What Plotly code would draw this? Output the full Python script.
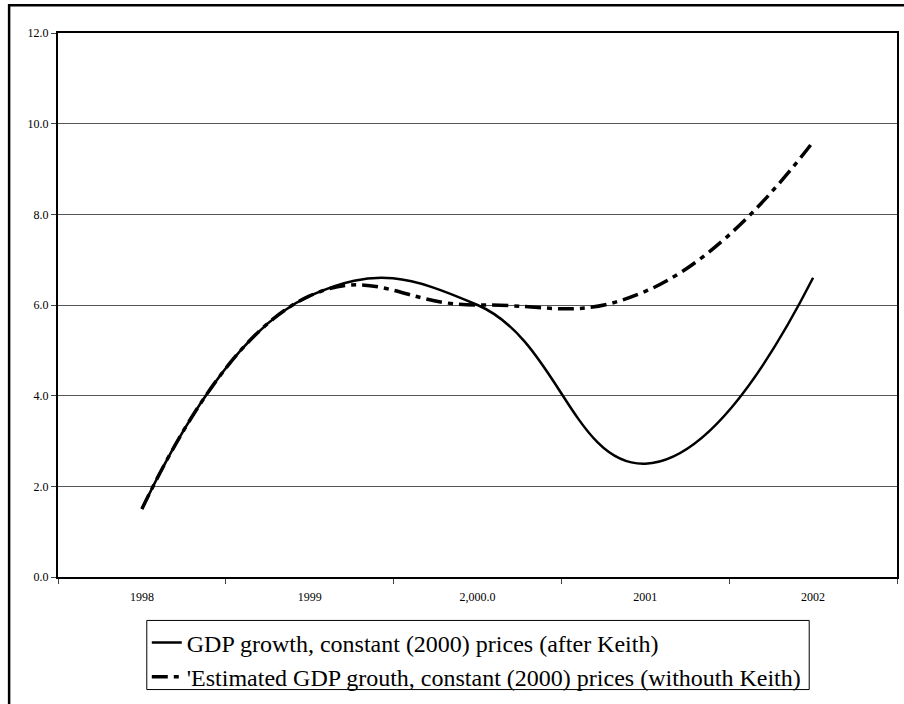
import plotly.graph_objects as go

# ---- data ----
categories = ["1998", "1999", "2,000.0", "2001", "2002"]
gdp_after = [1.5, 6.2, 6.0, 2.5, 6.6]
gdp_without = [1.5, 6.2, 6.0, 6.3, 9.6]
name_after = "GDP growth, constant (2000) prices (after Keith)"
name_without = "'Estimated GDP grouth, constant (2000) prices (withouth Keith)"
y_ticks = [0, 2, 4, 6, 8, 10, 12]

W, H = 904, 704
ML, MR, MT, MB = 58, 5, 33, 120
PW, PH = W - ML - MR, H - MT - MB

def px_x(p):
    return (p - ML) / PW

def px_y(p):
    return (H - MB - p) / PH

SERIF = "Liberation Serif"

fig = go.Figure()
fig.add_trace(go.Scatter(
    x=categories, y=gdp_after, name=name_after, mode="lines",
    line=dict(color="black", width=2.5, shape="spline", smoothing=1.3),
    hoverinfo="skip",
))
fig.add_trace(go.Scatter(
    x=categories, y=gdp_without, name=name_without, mode="lines",
    line=dict(color="black", width=3.5, shape="spline", smoothing=1.3,
              dash="16px,6px,5px,6px"),
    hoverinfo="skip",
))

fig.update_layout(
    width=W, height=H,
    margin=dict(l=ML, r=MR, t=MT, b=MB),
    paper_bgcolor="white", plot_bgcolor="white",
    font=dict(family=SERIF, color="black", size=12),
    showlegend=True,
    legend=dict(
        x=px_x(147), y=px_y(628), xanchor="left", yanchor="top",
        bgcolor="rgba(0,0,0,0)", borderwidth=0,
        font=dict(family=SERIF, size=24, color="black"),
        tracegroupgap=0, itemwidth=30,
    ),
    shapes=[
        dict(
            type="rect", xref="paper", yref="paper",
            x0=px_x(9), x1=px_x(930), y0=px_y(730), y1=px_y(5),
            line=dict(color="black", width=2.5), fillcolor="rgba(0,0,0,0)",
            layer="above",
        ),
        dict(
            type="rect", xref="paper", yref="paper",
            x0=px_x(147), x1=px_x(811), y0=px_y(698), y1=px_y(628),
            line=dict(color="black", width=1), fillcolor="rgba(0,0,0,0)",
            layer="above",
        ),
    ],
)

fig.update_xaxes(
    type="category", categoryorder="array", categoryarray=categories,
    range=[-0.5, len(categories) - 0.5],
    showline=True, linecolor="black", linewidth=2, mirror=True,
    showgrid=False, zeroline=False,
    ticks="outside", tickson="boundaries", ticklen=5, tickcolor="#444",
    tickfont=dict(family=SERIF, size=12, color="black"),
    ticklabelstandoff=8,
)
fig.update_yaxes(
    range=[0, 12], tickvals=y_ticks, tickformat=".1f",
    showline=True, linecolor="black", linewidth=2, mirror=True,
    showgrid=True, gridcolor="#555", gridwidth=1, zeroline=False,
    ticks="outside", ticklen=5, tickcolor="#444",
    tickfont=dict(family=SERIF, size=12, color="black"),
)

fig.write_html(
    "out.html",
    config={"displayModeBar": False, "staticPlot": True},
    post_script="document.body.style.margin='0';",
)
